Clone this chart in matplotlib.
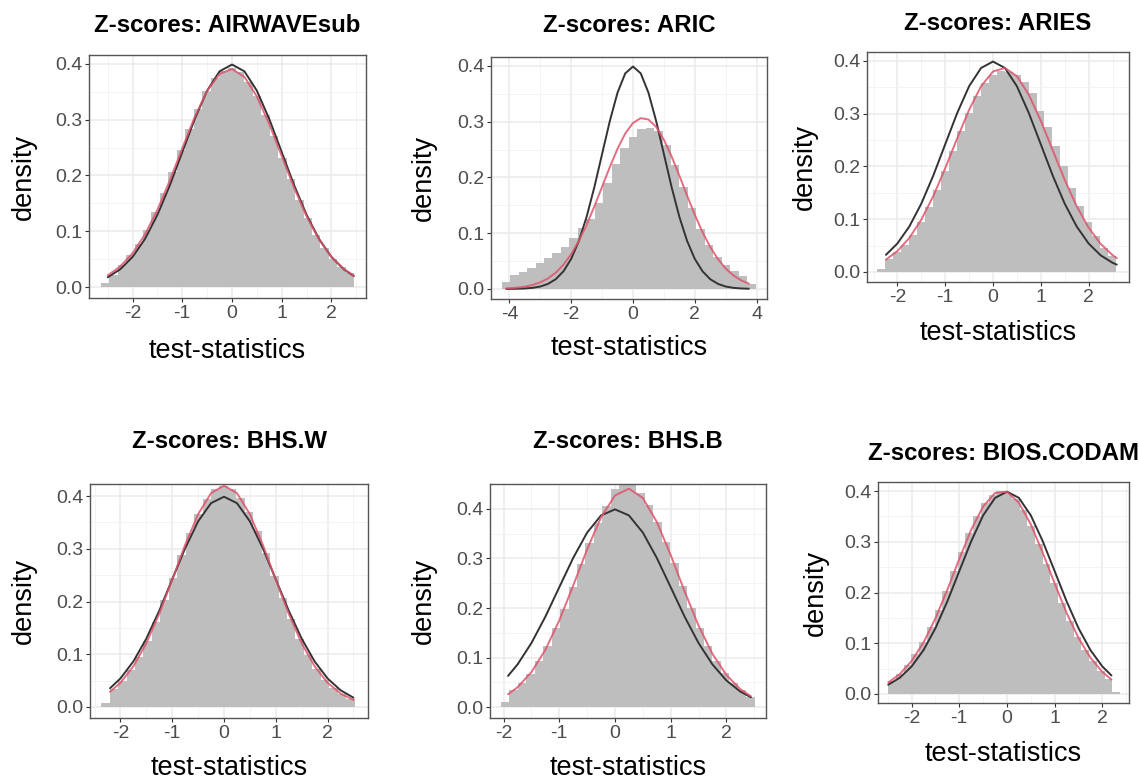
import numpy as np
import matplotlib
matplotlib.use("Agg")
import matplotlib.pyplot as plt
from matplotlib.ticker import MultipleLocator, FormatStrFormatter

plt.rcParams["font.family"] = ["Liberation Sans", "DejaVu Sans"]
plt.rcParams["axes.unicode_minus"] = False

W, H = 1139, 782

# -----------------------------
# Data
# -----------------------------
titles = ["AIRWAVEsub", "ARIC", "ARIES", "BHS.W", "BHS.B", "BIOS.CODAM"]

# histogram: left edge of first bin and bin width (30 bins each)
bin_start = [-2.64, -4.25, -2.43, -2.37, -2.05, -2.49]
bin_width = [0.170, 0.274, 0.167, 0.163, 0.152, 0.162]

dens_airwave = [0.008, 0.022, 0.040, 0.057, 0.077, 0.103, 0.134, 0.168, 0.206, 0.245,
                0.284, 0.320, 0.351, 0.374, 0.388, 0.392, 0.385, 0.368, 0.342, 0.309,
                0.271, 0.232, 0.193, 0.156, 0.123, 0.094, 0.070, 0.051, 0.036, 0.025]
dens_aric = [0.012, 0.025, 0.031, 0.037, 0.046, 0.055, 0.064, 0.076, 0.091, 0.109,
             0.125, 0.155, 0.190, 0.225, 0.252, 0.272, 0.287, 0.288, 0.283, 0.258,
             0.222, 0.183, 0.145, 0.108, 0.079, 0.058, 0.043, 0.032, 0.024, 0.009]
dens_aries = [0.005, 0.025, 0.038, 0.052, 0.071, 0.095, 0.124, 0.156, 0.192, 0.230,
              0.267, 0.302, 0.334, 0.358, 0.374, 0.381, 0.380, 0.374, 0.360, 0.339,
              0.305, 0.274, 0.238, 0.200, 0.160, 0.125, 0.094, 0.068, 0.046, 0.031]
dens_bhsw = [0.008, 0.034, 0.050, 0.070, 0.095, 0.126, 0.162, 0.202, 0.245, 0.289,
             0.330, 0.366, 0.395, 0.413, 0.420, 0.414, 0.397, 0.369, 0.334, 0.292,
             0.249, 0.206, 0.166, 0.129, 0.098, 0.072, 0.051, 0.035, 0.024, 0.016]
dens_bhsb = [0.011, 0.034, 0.049, 0.068, 0.093, 0.123, 0.159, 0.199, 0.243, 0.288,
             0.331, 0.371, 0.405, 0.440, 0.448, 0.448, 0.432, 0.408, 0.374, 0.334,
             0.290, 0.245, 0.201, 0.160, 0.124, 0.094, 0.069, 0.049, 0.034, 0.021]
dens_bios = [0.025, 0.040, 0.057, 0.078, 0.102, 0.131, 0.166, 0.203, 0.242, 0.280,
             0.318, 0.350, 0.376, 0.393, 0.400, 0.397, 0.384, 0.362, 0.331, 0.295,
             0.257, 0.218, 0.180, 0.144, 0.113, 0.086, 0.064, 0.046, 0.030, 0.004]
densities = [dens_airwave, dens_aric, dens_aries, dens_bhsw, dens_bhsb, dens_bios]

# reference N(0,1) curve (black) and fitted curve (red), sampled along x
x_airwave = [-2.5, -2.25, -2.0, -1.75, -1.5, -1.25, -1.0, -0.75, -0.5, -0.25, 0.0,
             0.25, 0.5, 0.75, 1.0, 1.25, 1.5, 1.75, 2.0, 2.25, 2.45]
std_airwave = [0.0175, 0.0317, 0.0540, 0.0863, 0.1295, 0.1826, 0.2420, 0.3011, 0.3521, 0.3867, 0.3989,
               0.3867, 0.3521, 0.3011, 0.2420, 0.1826, 0.1295, 0.0863, 0.0540, 0.0317, 0.0198]
fit_airwave = [0.0208, 0.0367, 0.0606, 0.0944, 0.1385, 0.1913, 0.2488, 0.3048, 0.3517, 0.3821, 0.3909,
               0.3767, 0.3417, 0.2920, 0.2349, 0.1780, 0.1270, 0.0853, 0.0540, 0.0322, 0.0204]

x_aric = [-4.1, -3.75, -3.5, -3.25, -3.0, -2.75, -2.5, -2.25, -2.0, -1.75, -1.5, -1.25, -1.0,
          -0.75, -0.5, -0.25, 0.0, 0.25, 0.5, 0.75, 1.0, 1.25, 1.5, 1.75, 2.0, 2.25, 2.5,
          2.75, 3.0, 3.25, 3.5, 3.75]
std_aric = [0.0001, 0.0004, 0.0009, 0.0020, 0.0044, 0.0091, 0.0175, 0.0317, 0.0540, 0.0863,
            0.1295, 0.1826, 0.2420, 0.3011, 0.3521, 0.3867, 0.3989, 0.3867, 0.3521, 0.3011,
            0.2420, 0.1826, 0.1295, 0.0863, 0.0540, 0.0317, 0.0175, 0.0091, 0.0044, 0.0020,
            0.0009, 0.0004]
fit_aric = [0.0010, 0.0023, 0.0041, 0.0071, 0.0118, 0.0189, 0.0292, 0.0435, 0.0624, 0.0864,
            0.1152, 0.1480, 0.1833, 0.2187, 0.2515, 0.2788, 0.2977, 0.3064, 0.3039, 0.2906,
            0.2676, 0.2376, 0.2033, 0.1676, 0.1332, 0.1019, 0.0752, 0.0535, 0.0366, 0.0242,
            0.0154, 0.0095]

x_aries = [-2.24, -2.0, -1.75, -1.5, -1.25, -1.0, -0.75, -0.5, -0.25, 0.0, 0.25,
           0.5, 0.75, 1.0, 1.25, 1.5, 1.75, 2.0, 2.25, 2.5, 2.59]
std_aries = [0.0325, 0.0540, 0.0863, 0.1295, 0.1826, 0.2420, 0.3011, 0.3521, 0.3867, 0.3989, 0.3867,
             0.3521, 0.3011, 0.2420, 0.1826, 0.1295, 0.0863, 0.0540, 0.0317, 0.0175, 0.0139]
fit_aries = [0.0234, 0.0396, 0.0645, 0.0992, 0.1437, 0.1965, 0.2532, 0.3074, 0.3520, 0.3801, 0.3868,
             0.3712, 0.3358, 0.2865, 0.2305, 0.1747, 0.1248, 0.0840, 0.0535, 0.0320, 0.0263]

x_bhsw = [-2.2, -2.0, -1.75, -1.5, -1.25, -1.0, -0.75, -0.5, -0.25, 0.0,
          0.25, 0.5, 0.75, 1.0, 1.25, 1.5, 1.75, 2.0, 2.25, 2.5]
std_bhsw = [0.0355, 0.0540, 0.0863, 0.1295, 0.1826, 0.2420, 0.3011, 0.3521, 0.3867, 0.3989,
            0.3867, 0.3521, 0.3011, 0.2420, 0.1826, 0.1295, 0.0863, 0.0540, 0.0317, 0.0175]
fit_bhsw = [0.0287, 0.0458, 0.0770, 0.1207, 0.1767, 0.2413, 0.3075, 0.3656, 0.4057, 0.4199,
            0.4057, 0.3656, 0.3075, 0.2413, 0.1767, 0.1207, 0.0770, 0.0458, 0.0254, 0.0132]

x_bhsb = [-1.92, -1.75, -1.5, -1.25, -1.0, -0.75, -0.5, -0.25, 0.0, 0.25,
          0.5, 0.75, 1.0, 1.25, 1.5, 1.75, 2.0, 2.25, 2.44]
std_bhsb = [0.0632, 0.0863, 0.1295, 0.1826, 0.2420, 0.3011, 0.3521, 0.3867, 0.3989, 0.3867,
            0.3521, 0.3011, 0.2420, 0.1826, 0.1295, 0.0863, 0.0540, 0.0317, 0.0203]
fit_bhsb = [0.0262, 0.0403, 0.0709, 0.1158, 0.1751, 0.2453, 0.3184, 0.3830, 0.4268, 0.4407,
            0.4217, 0.3737, 0.3069, 0.2335, 0.1646, 0.1075, 0.0651, 0.0365, 0.0223]

x_bios = [-2.49, -2.25, -2.0, -1.75, -1.5, -1.25, -1.0, -0.75, -0.5, -0.25,
          0.0, 0.25, 0.5, 0.75, 1.0, 1.25, 1.5, 1.75, 2.0, 2.19]
std_bios = [0.0180, 0.0317, 0.0540, 0.0863, 0.1295, 0.1826, 0.2420, 0.3011, 0.3521, 0.3867,
            0.3989, 0.3867, 0.3521, 0.3011, 0.2420, 0.1826, 0.1295, 0.0863, 0.0540, 0.0363]
fit_bios = [0.0224, 0.0388, 0.0647, 0.1014, 0.1490, 0.2055, 0.2662, 0.3240, 0.3698, 0.3964,
            0.3989, 0.3769, 0.3343, 0.2784, 0.2175, 0.1597, 0.1101, 0.0712, 0.0432, 0.0283]

curve_x = [x_airwave, x_aric, x_aries, x_bhsw, x_bhsb, x_bios]
curve_std = [std_airwave, std_aric, std_aries, std_bhsw, std_bhsb, std_bios]
curve_fit = [fit_airwave, fit_aric, fit_aries, fit_bhsw, fit_bhsb, fit_bios]

# -----------------------------
# Layout (pixels) for each panel
# -----------------------------
boxes = [(89, 55, 366, 298), (491, 57, 767, 299), (867, 52, 1129, 282),
         (90, 484, 368, 718), (490, 484, 766, 718), (878, 482, 1129, 703)]
xlims = [(-2.877, 2.696), (-4.595, 4.337), (-2.636, 2.845),
         (-2.587, 2.780), (-2.244, 2.711), (-2.704, 2.558)]
ylims = [(-0.0197, 0.416), (-0.018, 0.416), (-0.019, 0.417),
         (-0.021, 0.423), (-0.0216, 0.45), (-0.018, 0.418)]
xsteps = [1, 2, 1, 1, 1, 1]
title_y = [25, 25, 24, 442, 442, 453]
ylab_x = [24, 424, 805, 24, 424, 816]
xlab_y = [351, 348, 333, 768, 768, 754]

BAR = "#BEBEBE"
BLACK = "#333333"
RED = "#DF536B"

fig = plt.figure(figsize=(W / 100, H / 100), dpi=100)
fig.patch.set_facecolor("white")


def fx(px):
    return px / W


def fy(py):
    return 1 - py / H


for i in range(6):
    l, t, r, b = boxes[i]
    ax = fig.add_axes([fx(l), fy(b), (r - l) / W, (b - t) / H])
    ax.set_axisbelow(True)

    heights = densities[i]
    edges = bin_start[i] + bin_width[i] * np.arange(len(heights))
    ax.bar(edges, heights, width=bin_width[i], align="edge", color=BAR, linewidth=0, zorder=2)

    ax.plot(curve_x[i], curve_std[i], color=BLACK, lw=1.4, zorder=3, solid_capstyle="round")
    ax.plot(curve_x[i], curve_fit[i], color=RED, lw=1.4, alpha=0.85, zorder=4, solid_capstyle="round")

    ax.set_xlim(*xlims[i])
    ax.set_ylim(*ylims[i])

    ax.xaxis.set_major_locator(MultipleLocator(xsteps[i]))
    ax.xaxis.set_minor_locator(MultipleLocator(xsteps[i] / 2))
    ax.yaxis.set_major_locator(MultipleLocator(0.1))
    ax.yaxis.set_minor_locator(MultipleLocator(0.05))
    ax.xaxis.set_major_formatter(FormatStrFormatter("%d"))
    ax.yaxis.set_major_formatter(FormatStrFormatter("%.1f"))

    ax.grid(which="major", color="#EBEBEB", lw=1.1)
    ax.grid(which="minor", color="#F2F2F2", lw=0.6)
    ax.tick_params(which="major", length=3, width=0.8, color=BLACK, pad=2,
                   labelsize=14, labelcolor="#4D4D4D")
    ax.tick_params(which="minor", length=0)
    for sp in ax.spines.values():
        sp.set_color("#555555")
        sp.set_linewidth(1.0)

    cx = (l + r) / 2
    cy = (t + b) / 2
    fig.text(fx(cx), fy(title_y[i]), "Z-scores: " + titles[i], ha="center", va="center",
             fontsize=17.3, fontweight="bold")
    fig.text(fx(ylab_x[i]), fy(cy), "density", rotation=90, ha="center", va="center",
             fontsize=19.5)
    fig.text(fx(cx), fy(xlab_y[i]), "test-statistics", ha="center", va="center",
             fontsize=19.5)

fig.savefig("out.png", dpi=100)
